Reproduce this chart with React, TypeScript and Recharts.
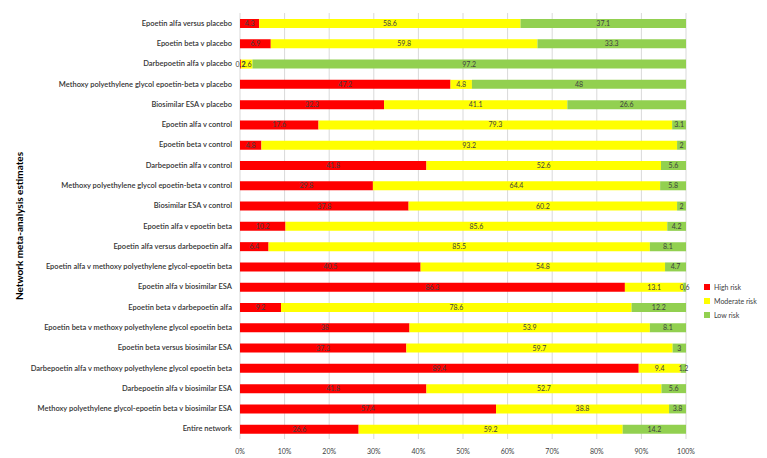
import { BarChart, Bar, XAxis, YAxis, CartesianGrid, LabelList } from 'recharts';

const comparisons = [
  'Epoetin alfa versus placebo',
  'Epoetin beta v placebo',
  'Darbepoetin alfa v placebo',
  'Methoxy polyethylene glycol epoetin-beta v placebo',
  'Biosimilar ESA v placebo',
  'Epoetin alfa v control',
  'Epoetin beta v control',
  'Darbepoetin alfa v control',
  'Methoxy polyethylene glycol epoetin-beta v control',
  'Biosimilar ESA v control',
  'Epoetin alfa v epoetin beta',
  'Epoetin alfa versus darbepoetin alfa',
  'Epoetin alfa v methoxy polyethylene glycol-epoetin beta',
  'Epoetin alfa v biosimilar ESA',
  'Epoetin beta v darbepoetin alfa',
  'Epoetin beta v methoxy polyethylene glycol epoetin beta',
  'Epoetin beta versus biosimilar ESA',
  'Darbepoetin alfa v methoxy polyethylene glycol epoetin beta',
  'Darbepoetin alfa v biosimilar ESA',
  'Methoxy polyethylene glycol-epoetin beta v biosimilar ESA',
  'Entire network',
];

const highRisk = [4.3, 6.9, 0.2, 47.2, 32.3, 17.6, 4.8, 41.8, 29.8, 37.8, 10.2, 6.4, 40.5, 86.3, 9.2, 38, 37.3, 89.4, 41.8, 57.4, 26.6];
const moderateRisk = [58.6, 59.8, 2.6, 4.8, 41.1, 79.3, 93.2, 52.6, 64.4, 60.2, 85.6, 85.5, 54.8, 13.1, 78.6, 53.9, 59.7, 9.4, 52.7, 38.8, 59.2];
const lowRisk = [37.1, 33.3, 97.2, 48, 26.6, 3.1, 2, 5.6, 5.8, 2, 4.2, 8.1, 4.7, 0.6, 12.2, 8.1, 3, 1.2, 5.6, 3.8, 14.2];

const xTicks = [0, 10, 20, 30, 40, 50, 60, 70, 80, 90, 100];

const data = comparisons.map((name, i) => ({
  name,
  high: highRisk[i],
  moderate: moderateRisk[i],
  low: lowRisk[i],
}));

const FONT = 'Lato, "Open Sans", sans-serif';

const legendItems = [
  { label: 'High risk', color: '#FF0000' },
  { label: 'Moderate risk', color: '#FFFF00' },
  { label: 'Low risk', color: '#92D050' },
];

function CategoryTick(props: any) {
  const { x, y, payload } = props;
  return (
    <text
      x={x}
      y={y}
      textAnchor="end"
      dominantBaseline="central"
      fontSize={7.5}
      fontWeight={600}
      fontFamily={FONT}
      fill="#333"
    >
      {payload.value}
    </text>
  );
}

export default function App() {
  return (
    <div style={{ position: 'absolute', left: 0, top: 0 }}>
      <BarChart
        width={767}
        height={458}
        data={data}
        layout="vertical"
        margin={{ top: 13, right: 81, bottom: 0, left: 0 }}
        barSize={9}
      >
        <CartesianGrid horizontal={false} stroke="#d9d9d9" />
        <XAxis
          type="number"
          domain={[0, 100]}
          ticks={xTicks}
          allowDataOverflow
          tickFormatter={(v: number) => `${v}%`}
          axisLine={false}
          tickLine={false}
          tick={{ fontSize: 7, fill: '#404040', fontFamily: FONT }}
          height={19}
          tickMargin={4}
        />
        <YAxis
          type="category"
          dataKey="name"
          width={240}
          axisLine={false}
          tickLine={false}
          tickMargin={2}
          interval={0}
          tick={<CategoryTick />}
          label={{
            content: (props: any) => {
              const vb = props.viewBox || { y: 13, height: 426 };
              const cy = vb.y + vb.height / 2;
              return (
                <text
                  x={20}
                  y={cy}
                  transform={`rotate(-90, 20, ${cy})`}
                  textAnchor="middle"
                  dominantBaseline="middle"
                  fontSize={10}
                  fontWeight="bold"
                  fontFamily={FONT}
                  fill="#000"
                >
                  Network meta-analysis estimates
                </text>
              );
            },
          }}
        />
        <Bar dataKey="high" name="High risk" stackId="a" fill="#FF0000" isAnimationActive={false}>
          <LabelList dataKey="high" position="center" fontSize={7} fill="#404040" fontFamily={FONT} />
        </Bar>
        <Bar dataKey="moderate" name="Moderate risk" stackId="a" fill="#FFFF00" isAnimationActive={false}>
          <LabelList dataKey="moderate" position="center" fontSize={7} fill="#404040" fontFamily={FONT} />
        </Bar>
        <Bar dataKey="low" name="Low risk" stackId="a" fill="#92D050" isAnimationActive={false}>
          <LabelList dataKey="low" position="center" fontSize={7} fill="#404040" fontFamily={FONT} />
        </Bar>
      </BarChart>
      <div style={{ position: 'absolute', left: 704, top: 280, fontFamily: FONT, fontSize: 7, color: '#404040' }}>
        {legendItems.map(item => (
          <div key={item.label} style={{ display: 'flex', alignItems: 'center', height: 14 }}>
            <span style={{ width: 6, height: 6, background: item.color, marginRight: 4, display: 'inline-block' }} />
            {item.label}
          </div>
        ))}
      </div>
    </div>
  );
}
